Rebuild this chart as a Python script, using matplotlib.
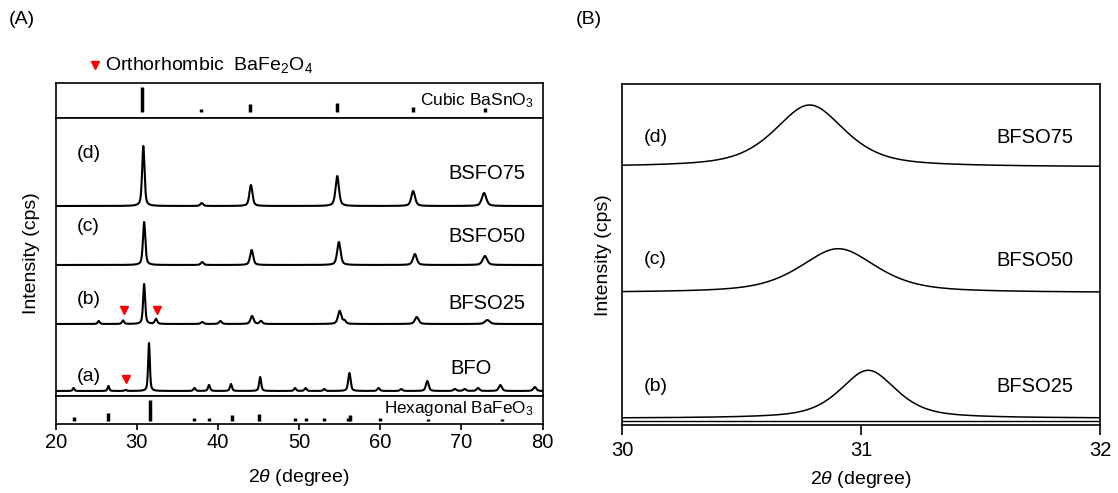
import numpy as np
import matplotlib
matplotlib.use("Agg")
import matplotlib.pyplot as plt

plt.rcParams['font.family'] = ['Liberation Sans', 'DejaVu Sans']
plt.rcParams['mathtext.fontset'] = 'custom'
plt.rcParams['mathtext.rm'] = 'Liberation Sans'
plt.rcParams['mathtext.it'] = 'Liberation Sans:italic'
plt.rcParams['mathtext.bf'] = 'Liberation Sans:bold'

W, H, DPI = 1118, 493, 100

# ---------------- panel (A): wide-range XRD patterns ----------------
# peak tables: position (2θ, deg), height (a.u.), FWHM (deg)
bfo_pos = [22.2, 26.5, 28.6, 31.5, 37.1, 38.9, 41.6, 45.2, 49.5, 50.8, 53.1,
           56.2, 59.8, 62.6, 65.8, 69.2, 70.4, 72.06, 74.8, 79.05]
bfo_hgt = [3, 5, 1, 48, 3, 6, 7, 14, 3, 3, 2, 18, 3, 2, 10, 2, 2, 3, 6, 4]
bfo_fwhm = [0.25, 0.25, 0.3, 0.25, 0.3, 0.3, 0.3, 0.3, 0.3, 0.3, 0.3,
            0.35, 0.35, 0.35, 0.4, 0.4, 0.4, 0.4, 0.45, 0.45]

bfso25_pos = [25.3, 28.3, 30.9, 32.36, 38.06, 40.3, 44.2, 45.3, 55.0, 55.6, 64.5, 73.2]
bfso25_hgt = [3, 3.5, 40, 5, 2, 3, 8, 3, 13, 3, 7, 4]
bfso25_fwhm = [0.3, 0.3, 0.3, 0.35, 0.4, 0.4, 0.45, 0.4, 0.5, 0.4, 0.55, 0.7]

bsfo50_pos = [30.9, 38.06, 44.15, 54.9, 64.27, 72.9]
bsfo50_hgt = [43, 3, 15, 23, 11, 9]
bsfo50_fwhm = [0.35, 0.4, 0.45, 0.5, 0.55, 0.65]

bsfo75_pos = [30.8, 38.0, 44.06, 54.7, 64.06, 72.8]
bsfo75_hgt = [60, 3, 21, 30, 15, 13]
bsfo75_fwhm = [0.35, 0.4, 0.45, 0.5, 0.55, 0.65]

# vertical offsets of the stacked patterns
offset_a, offset_b, offset_c, offset_d = 5, 72, 131, 190

# reference patterns (stick positions and relative intensities)
cubic_pos = [30.6, 37.9, 43.9, 54.7, 64.06, 72.9]
cubic_int = [24.4, 2.7, 7.7, 9.0, 4.4, 3.7]
hex_pos = [22.2, 26.4, 31.6, 37.1, 38.9, 41.7, 45.1, 49.5, 50.8, 53.1,
           56.0, 56.25, 60.0, 65.9, 74.95]
hex_int = [4.0, 8.0, 20.7, 2.5, 2.5, 5.7, 6.7, 2.3, 2.3, 2.3,
           3.0, 5.5, 2.3, 1.5, 1.5]

# orthorhombic BaFe2O4 impurity marks (2θ, intensity level)
ortho_b_pos = [28.42, 32.43]
ortho_b_lvl = [86, 86]
ortho_a_pos = [28.7]
ortho_a_lvl = [17]

# ---------------- panel (B): enlarged main reflection ----------------
zoom_names = ['BFSO75', 'BFSO50', 'BFSO25']
zoom_tags = ['(d)', '(c)', '(b)']
zoom_center = [30.785, 30.905, 31.03]
zoom_height = [62, 44, 48]
zoom_fwhm = [0.35, 0.38, 0.28]
zoom_offset = [257.5, 131.8, 6.2]


def pseudo_voigt(x, center, height, fwhm, eta=0.55):
    u = (x - center) / (fwhm / 2.0)
    return height * (eta / (1.0 + u ** 2) + (1 - eta) * np.exp(-np.log(2) * u ** 2))


def pattern(x, pos, hgt, fwhm, eta=0.55):
    y = np.zeros_like(x)
    for p, h, w in zip(pos, hgt, fwhm):
        y += pseudo_voigt(x, p, h, w, eta)
    return y


def rect(left, top, right, bottom):
    return [left / W, 1 - bottom / H, (right - left) / W, (bottom - top) / H]


fig = plt.figure(figsize=(W / DPI, H / DPI), dpi=DPI)

# three stacked frames of panel A
ax_top = fig.add_axes(rect(55.7, 83, 542.5, 118))
ax_main = fig.add_axes(rect(55.7, 118, 542.5, 396))
ax_bot = fig.add_axes(rect(55.7, 396, 542.5, 423.5))

for ax in (ax_top, ax_main, ax_bot):
    ax.set_xlim(20, 80)
    ax.set_yticks([])
    for s in ax.spines.values():
        s.set_linewidth(1.2)
ax_top.set_xticks([])
ax_main.set_xticks([])
ax_bot.set_xticks([20, 30, 40, 50, 60, 70, 80])
ax_bot.tick_params(axis='x', direction='out', length=4, width=1.2,
                   labelsize=14.5, pad=3)

x = np.linspace(20, 80, 6001)
for pos, hgt, fw, off in [(bfo_pos, bfo_hgt, bfo_fwhm, offset_a),
                          (bfso25_pos, bfso25_hgt, bfso25_fwhm, offset_b),
                          (bsfo50_pos, bsfo50_hgt, bsfo50_fwhm, offset_c),
                          (bsfo75_pos, bsfo75_hgt, bsfo75_fwhm, offset_d)]:
    ax_main.plot(x, off + pattern(x, pos, hgt, fw), color='black', lw=1.5)
ax_main.set_ylim(0, 278)

ax_main.plot(ortho_b_pos, ortho_b_lvl, 'v', color='red', ms=6, mec='red')
ax_main.plot(ortho_a_pos, ortho_a_lvl, 'v', color='red', ms=6, mec='red')

tag_fs = 14
name_fs = 14.5
ax_main.text(22.6, 242.7, '(d)', fontsize=tag_fs, va='center', ha='left')
ax_main.text(68.35, 222.7, 'BSFO75', fontsize=name_fs, va='center', ha='left')
ax_main.text(22.6, 169.3, '(c)', fontsize=tag_fs, va='center', ha='left')
ax_main.text(68.35, 159.3, 'BSFO50', fontsize=name_fs, va='center', ha='left')
ax_main.text(22.6, 96, '(b)', fontsize=tag_fs, va='center', ha='left')
ax_main.text(68.35, 92.7, 'BFSO25', fontsize=name_fs, va='center', ha='left')
ax_main.text(22.6, 19.3, '(a)', fontsize=tag_fs, va='center', ha='left')
ax_main.text(68.6, 27.7, 'BFO', fontsize=name_fs, va='center', ha='left')

# reference sticks
ax_top.set_ylim(0, 35)
cubic_base = 6.3
ax_top.vlines(cubic_pos, cubic_base, [cubic_base + v for v in cubic_int],
              color='black', lw=2.5)
ax_top.text(78.9, 17, 'Cubic BaSnO$_3$', fontsize=12.5, ha='right', va='center')

ax_bot.set_ylim(0, 27.5)
hex_base = 2.8
ax_bot.vlines(hex_pos, hex_base, [hex_base + v for v in hex_int],
              color='black', lw=2.5)
ax_bot.text(78.9, 14.5, 'Hexagonal BaFeO$_3$', fontsize=12.3, ha='right', va='center')

# panel B
axB = fig.add_axes(rect(622, 84, 1100, 424.5))
xb = np.linspace(30, 32, 2001)
for c, h, fw, off in zip(zoom_center, zoom_height, zoom_fwhm, zoom_offset):
    axB.plot(xb, off + pseudo_voigt(xb, c, h, fw, 0.6), color='black', lw=1.1)
axB.axhline(3.8, color='black', lw=1.0)
axB.set_xlim(30, 32)
axB.set_ylim(0, 340.5)
axB.set_yticks([])
axB.set_xticks([30, 31, 32])
axB.tick_params(axis='x', direction='out', length=7, width=1.2,
                labelsize=14.5, pad=5)
for s in axB.spines.values():
    s.set_linewidth(1.2)
for tag, name, yv in zip(zoom_tags, zoom_names, [287.2, 164.5, 37.8]):
    axB.text(30.093, yv, tag, fontsize=tag_fs, va='center', ha='left')
    axB.text(31.565, yv, name, fontsize=name_fs, va='center', ha='left')

# axis titles and panel tags
def ftext(px, py, s, **kw):
    fig.text(px / W, 1 - py / H, s, **kw)

ftext(299, 478, r'2$\theta$ (degree)', fontsize=14, ha='center', va='center')
ftext(861, 480, r'2$\theta$ (degree)', fontsize=14, ha='center', va='center')
ftext(31, 253, 'Intensity (cps)', fontsize=14, ha='center', va='center', rotation=90)
ftext(604, 255, 'Intensity (cps)', fontsize=14, ha='center', va='center', rotation=90)
ftext(9, 20, '(A)', fontsize=14, ha='left', va='center')
ftext(576, 20, '(B)', fontsize=14, ha='left', va='center')
ftext(105, 65, 'Orthorhombic  BaFe$_2$O$_4$', fontsize=14, ha='left', va='center')
fig.add_artist(plt.Line2D([95 / W], [1 - 65 / H], marker='v', color='red',
                          ms=6, mec='red', transform=fig.transFigure))

fig.savefig('out.png', dpi=DPI)
